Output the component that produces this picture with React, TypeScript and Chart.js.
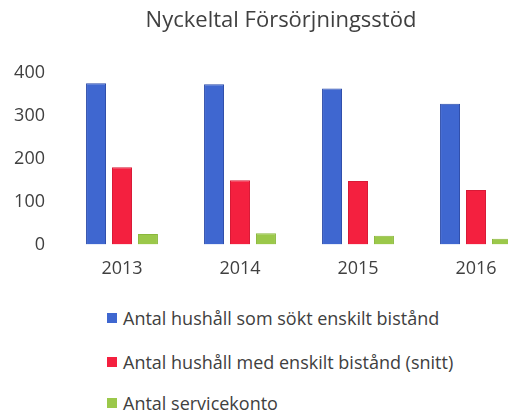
import React, { useEffect, useRef } from "react";
import { Chart, registerables } from "chart.js";

Chart.register(...registerables);

const title = "Nyckeltal Försörjningsstöd";
const categories = ["2013", "2014", "2015", "2016"];
const seriesNames = [
  "Antal hushåll som sökt enskilt bistånd",
  "Antal hushåll med enskilt bistånd (snitt)",
  "Antal servicekonto",
];
const soktValues = [376, 374, 364, 328];
const medValues = [180, 150, 148, 127];
const serviceValues = [24, 26, 20, 13];
const yTicks = [0, 100, 200, 300, 400];

const fills = ["#3f67d0", "#f4203f", "#9bc84a"];
const borders = ["#2a4aa8", "#d81a36", "#8ab83c"];
const FONT = "'Open Sans', Lato, sans-serif";

export default function App() {
  const ref = useRef<HTMLCanvasElement | null>(null);
  useEffect(() => {
    if (!ref.current) return;
    const values = [soktValues, medValues, serviceValues];
    const chart = new Chart(ref.current, {
      type: "bar",
      data: {
        labels: categories,
        datasets: values.map((v, i) => ({
          label: seriesNames[i],
          data: v,
          backgroundColor: fills[i],
          borderColor: borders[i],
          borderWidth: 1,
          categoryPercentage: 0.66,
          barPercentage: 0.77,
        })),
      },
      options: {
        animation: false,
        responsive: false,
        maintainAspectRatio: false,
        layout: { padding: 0 },
        plugins: {
          legend: { display: false },
          tooltip: { enabled: false },
          title: {
            display: true,
            text: title,
            color: "#404040",
            font: { family: FONT, size: 22, weight: "normal" },
            padding: { top: 8, bottom: 38.6 },
          },
        },
        scales: {
          x: {
            grid: { display: false, drawTicks: false },
            border: { display: false },
            ticks: {
              color: "#404040",
              font: { family: FONT, size: 18 },
              padding: 14,
            },
          },
          y: {
            min: yTicks[0],
            max: yTicks[yTicks.length - 1],
            grid: { display: false, drawTicks: false },
            border: { display: false },
            afterFit: (s: any) => {
              s.width = 63;
            },
            afterBuildTicks: (s: any) => {
              s.ticks = yTicks.map((v) => ({ value: v }));
            },
            ticks: {
              color: "#404040",
              font: { family: FONT, size: 18 },
              padding: 18,
            },
          },
          yRight: {
            type: "linear",
            position: "right",
            min: yTicks[0],
            max: yTicks[yTicks.length - 1],
            grid: { display: false, drawTicks: false },
            border: { display: false },
            ticks: { display: false },
            afterFit: (s: any) => {
              s.width = 27;
            },
          },
        },
      },
    });
    return () => chart.destroy();
  }, []);

  const rowTops = [318, 362, 403];
  return (
    <div
      style={{
        position: "fixed",
        left: 0,
        top: 0,
        width: 508,
        height: 412,
        overflow: "hidden",
        background: "#ffffff",
      }}
    >
      <canvas
        ref={ref}
        width={562}
        height={294}
        style={{ position: "absolute", left: 0, top: 0, width: 562, height: 294 }}
      />
      {seriesNames.map((name, i) => (
        <div
          key={name}
          style={{
            position: "absolute",
            left: 107,
            top: rowTops[i] - 12,
            height: 24,
            display: "flex",
            alignItems: "center",
            whiteSpace: "nowrap",
            fontFamily: FONT,
            fontSize: 18,
            color: "#404040",
          }}
        >
          <span
            style={{
              display: "inline-block",
              width: 10,
              height: 10,
              background: fills[i],
              marginRight: 6,
            }}
          />
          <span>{name}</span>
        </div>
      ))}
    </div>
  );
}
